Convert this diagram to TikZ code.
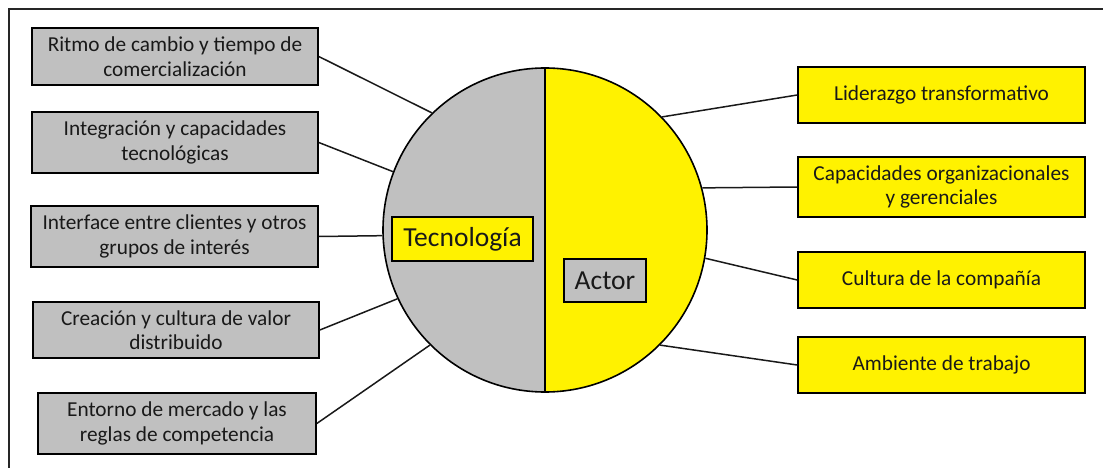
\documentclass[tikz,border=0pt]{standalone}
\usepackage{fontspec}
\setmainfont{Carlito}
\definecolor{boxgray}{RGB}{192,192,192}
\definecolor{boxyellow}{RGB}{255,242,0}
\begin{document}
\begin{tikzpicture}[x=1pt,y=-1pt,
  box/.style={draw=black, line width=1.6pt, inner sep=0pt, align=center,
    font=\fontsize{21.3}{24.5}\selectfont, text=black!90},
  grayitem/.style={box, fill=boxgray},
  yellowitem/.style={box, fill=boxyellow},
  label/.style={box, line width=1.4pt, font=\fontsize{27.5}{32}\selectfont},
  link/.style={draw=black!90, line width=1.5pt}]
\useasboundingbox (0,0) rectangle (1103,468);
% open frame on the left and top
\draw[line width=1.6pt, black!85] (9,468) -- (9,9) -- (1103,9);

% central circle, half technology (gray) and half actor (yellow)
\node[circle, draw=black, line width=1.6pt, minimum size=324pt, inner sep=0pt,
  path picture={
    \fill[boxgray] (path picture bounding box.north west) rectangle (path picture bounding box.south);
    \fill[boxyellow] (path picture bounding box.north) rectangle (path picture bounding box.south east);
  }] (c) at (545,230) {};
\draw[line width=1.6pt] (c.north) -- (c.south);

\node[label, fill=boxyellow, minimum width=141pt, minimum height=44pt] (tec) at (462.5,239) {Tecnología};
\node[label, fill=boxgray, minimum width=82pt, minimum height=43pt] (act) at (605,280.5) {Actor};

% technology factors
\node[grayitem, minimum width=286pt, minimum height=57pt] (l1) at (175,56.5) {Ritmo de cambio y tiempo de\\comercialización};
\node[grayitem, minimum width=286pt, minimum height=61pt] (l2) at (175,142.5) {Integración y capacidades\\tecnológicas};
\node[grayitem, minimum width=287pt, minimum height=61pt] (l3) at (174.5,236.5) {Interface entre clientes y otros\\grupos de interés};
\node[grayitem, minimum width=286pt, minimum height=56pt] (l4) at (176,330) {Creación y cultura de valor\\distribuido};
\node[grayitem, minimum width=278pt, minimum height=61pt] (l5) at (177,423.5) {Entorno de mercado y las\\reglas de competencia};

% actor factors
\node[yellowitem, minimum width=287pt, minimum height=56pt] (r1) at (941.5,95) {Liderazgo transformativo};
\node[yellowitem, minimum width=287pt, minimum height=60pt] (r2) at (941.5,187) {Capacidades organizacionales\\y gerenciales};
\node[yellowitem, minimum width=287pt, minimum height=56pt] (r3) at (941.5,280) {Cultura de la compañía};
\node[yellowitem, minimum width=287pt, minimum height=56pt] (r4) at (941.5,365) {Ambiente de trabajo};

% connectors
\draw[link] (l1.east) -- (c.134.5);
\draw[link] (l2.east) -- (c.159.2);
\draw[link] (l3.east) -- (c.182.5);
\draw[link] (l4.east) -- (c.205.6);
\draw[link] (l5.east) -- (c.225.7);
\draw[link] (r1.west) -- (c.44.8);
\draw[link] (r2.west) -- (c.15.5);
\draw[link] (r3.west) -- (c.-10.2);
\draw[link] (r4.west) -- (c.-45.2);
\end{tikzpicture}
\end{document}
